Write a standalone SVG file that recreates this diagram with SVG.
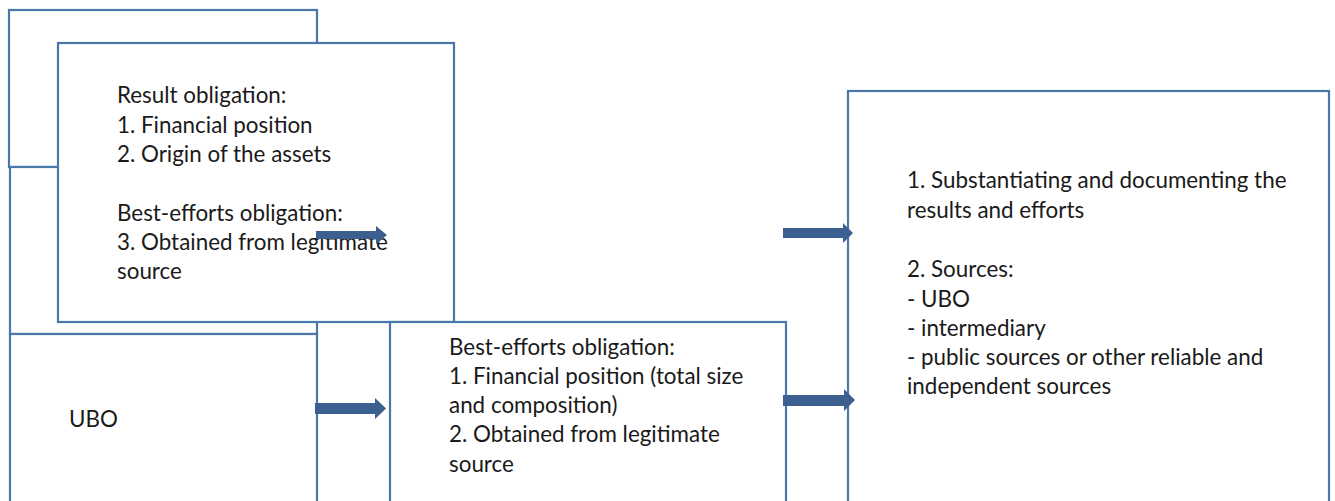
<svg xmlns="http://www.w3.org/2000/svg" width="1335" height="501" viewBox="0 0 1335 501">
  <style>
    .box { fill: #ffffff; stroke: #4a78aa; stroke-width: 2.2; }
    .lbl { font-family: Lato, "Open Sans", sans-serif; font-size: 22.4px; fill: #1a1a1a; }
    .arrow { fill: #3b5f8e; }
  </style>
  <rect width="1335" height="501" fill="#ffffff"/>

  <g id="node-back-top">
    <rect class="box" x="9" y="10" width="308" height="157"/>
  </g>
  <g id="node-back-middle">
    <rect class="box" x="10" y="167" width="307" height="167"/>
  </g>
  <g id="node-ubo">
    <rect class="box" x="10" y="334" width="307" height="180"/>
    <text class="lbl" x="69" y="427">UBO</text>
  </g>
  <g id="node-result">
    <rect class="box" x="58" y="43" width="396" height="279"/>
    <text class="lbl" x="117" y="103">Result obligation:</text>
    <text class="lbl" x="117" y="133">1. Financial position</text>
    <text class="lbl" x="117" y="162">2. Origin of the assets</text>
    <text class="lbl" x="117" y="221">Best-efforts obligation:</text>
    <text class="lbl" x="117" y="250">3. Obtained from legitimate</text>
    <text class="lbl" x="117" y="279">source</text>
  </g>
  <g id="node-best-efforts">
    <rect class="box" x="390" y="322" width="396" height="192"/>
    <text class="lbl" x="449" y="355">Best-efforts obligation:</text>
    <text class="lbl" x="449" y="384">1. Financial position (total size</text>
    <text class="lbl" x="449" y="413">and composition)</text>
    <text class="lbl" x="449" y="442">2. Obtained from legitimate</text>
    <text class="lbl" x="449" y="472">source</text>
  </g>
  <g id="node-substantiating">
    <rect class="box" x="848" y="91" width="481" height="423"/>
    <text class="lbl" x="907" y="188">1. Substantiating and documenting the</text>
    <text class="lbl" x="907" y="218">results and efforts</text>
    <text class="lbl" x="907" y="277">2. Sources:</text>
    <text class="lbl" x="907" y="307">- UBO</text>
    <text class="lbl" x="907" y="336">- intermediary</text>
    <text class="lbl" x="907" y="365">- public sources or other reliable and</text>
    <text class="lbl" x="907" y="394">independent sources</text>
  </g>

  <g id="connectors">
    <polygon class="arrow" points="316,231 376,231 376,226 387,235 376,244 376,239 316,239"/>
    <polygon class="arrow" points="783,228 843,228 843,223 853,233 843,243 843,238 783,238"/>
    <polygon class="arrow" points="315,403 375,403 375,398 386,408.5 375,419 375,414 315,414"/>
    <polygon class="arrow" points="783,395 844,395 844,389 855,400 844,411 844,406 783,406"/>
  </g>
</svg>
